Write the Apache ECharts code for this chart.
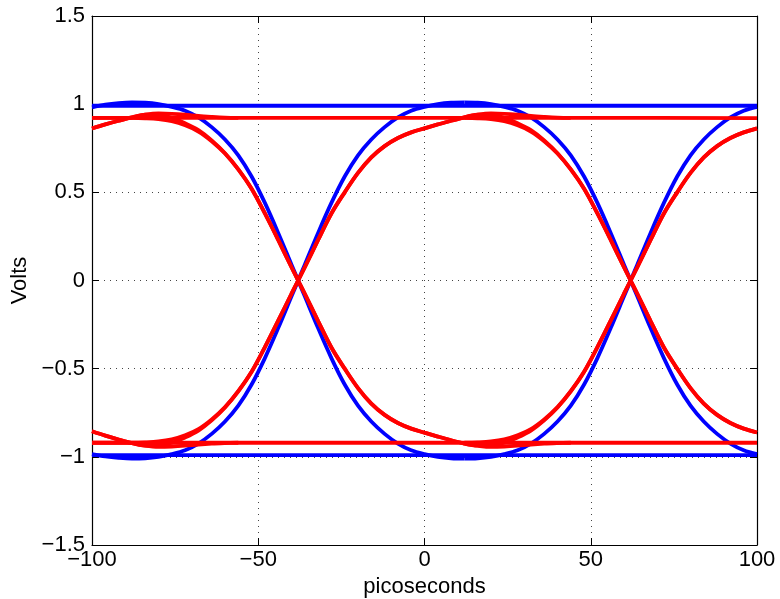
<!DOCTYPE html>
<html>
<head>
<meta charset="utf-8">
<script src="https://cdn.jsdelivr.net/npm/echarts@6/dist/echarts.min.js"></script>
<style>html,body{margin:0;padding:0;background:#fff;}#c{width:780px;height:599px;}</style>
</head>
<body>
<div id="c"></div>
<script>
// ---- axes / ticks ----
const xTicks = [-100, -50, 0, 50, 100];
const xTickLabels = ['\u2212100', '\u221250', '0', '50', '100'];
const yTicks = [-1.5, -1, -0.5, 0, 0.5, 1, 1.5];
const yTickLabels = ['\u22121.5', '\u22121', '\u22120.5', '0', '0.5', '1', '1.5'];

// ---- sample positions (picoseconds) ----
const xLeft = [-100,-96,-92,-88,-84,-80,-76,-72,-68,-64,-60,-56,-52,-48,-44,-40,-38,-36,-32,-28,-24,-20,-16,-12,-8,-4,0,4,8,12];
const xRight = [12,16,20,24,28,32,36,40,44,48,52,56,60,62,64,68,72,76,80,84,88,92,96,100];
const xFlat = [-100,-50,0,50,100];

// ---- blue traces (volts) ----
const blueTop = [0.991,0.991,0.991,0.991,0.991];
const blueBottom = [-0.99,-0.99,-0.99,-0.99,-0.99];
const blueFallL = [0.982,0.997,1.006,1.01,1.008,1.0,0.985,0.963,0.925,0.87,0.8,0.71,0.59,0.44,0.27,0.09,0,-0.09,-0.27,-0.44,-0.59,-0.71,-0.8,-0.87,-0.925,-0.963,-0.985,-1.0,-1.008,-1.01];
const blueRiseL = [-0.985,-0.998,-1.006,-1.01,-1.008,-1.0,-0.985,-0.963,-0.925,-0.87,-0.8,-0.71,-0.59,-0.44,-0.27,-0.09,0,0.09,0.27,0.44,0.59,0.71,0.8,0.87,0.925,0.963,0.985,1.0,1.008,1.01];
const blueFallR = [1.01,1.008,1.0,0.985,0.963,0.925,0.87,0.8,0.71,0.59,0.44,0.27,0.09,0,-0.09,-0.27,-0.44,-0.59,-0.71,-0.8,-0.87,-0.925,-0.963,-0.985];
const blueRiseR = [-1.01,-1.008,-1.0,-0.985,-0.963,-0.925,-0.87,-0.8,-0.71,-0.59,-0.44,-0.27,-0.09,0,0.09,0.27,0.44,0.59,0.71,0.8,0.87,0.925,0.963,0.985];

// ---- red traces (volts) ----
const redTop = [0.922,0.922,0.922,0.922,0.921];
const redBottom = [-0.92,-0.92,-0.92,-0.92,-0.92];
const redFallSettledL = [0.922,0.922,0.922,0.922,0.92,0.915,0.903,0.88,0.845,0.79,0.72,0.63,0.52,0.38,0.23,0.075,0,-0.075,-0.23,-0.38,-0.5,-0.61,-0.698,-0.762,-0.808,-0.84,-0.863,-0.885,-0.906,-0.925];
const redFallAfterL = [0.862,0.885,0.906,0.925,0.94,0.94,0.922,0.892,0.853,0.795,0.722,0.63,0.52,0.38,0.23,0.075,0,-0.075,-0.23,-0.38,-0.5,-0.61,-0.698,-0.762,-0.808,-0.84,-0.863,-0.885,-0.906,-0.925];
const redSettleTopL = [0.862,0.885,0.906,0.925,0.94,0.947,0.945,0.94,0.933,0.928,0.924,0.922];
const redRiseSettledL = [-0.92,-0.92,-0.92,-0.92,-0.918,-0.913,-0.901,-0.878,-0.843,-0.788,-0.718,-0.628,-0.518,-0.378,-0.228,-0.075,0,0.075,0.23,0.38,0.5,0.61,0.698,0.762,0.808,0.84,0.863,0.885,0.906,0.925];
const redRiseAfterL = [-0.855,-0.88,-0.902,-0.922,-0.937,-0.938,-0.92,-0.89,-0.851,-0.793,-0.72,-0.628,-0.518,-0.378,-0.228,-0.075,0,0.075,0.23,0.38,0.5,0.61,0.698,0.762,0.808,0.84,0.863,0.885,0.906,0.925];
const redSettleBotL = [-0.855,-0.88,-0.902,-0.922,-0.937,-0.944,-0.942,-0.937,-0.93,-0.925,-0.922,-0.92];
const redFallSettledR = [0.922,0.92,0.915,0.903,0.88,0.845,0.79,0.72,0.63,0.52,0.38,0.23,0.075,0,-0.075,-0.23,-0.38,-0.5,-0.61,-0.698,-0.762,-0.808,-0.84,-0.862];
const redFallAfterR = [0.925,0.94,0.94,0.922,0.892,0.853,0.795,0.722,0.63,0.52,0.38,0.23,0.075,0,-0.075,-0.23,-0.38,-0.5,-0.61,-0.698,-0.762,-0.808,-0.84,-0.862];
const redSettleTopR = [0.925,0.94,0.947,0.945,0.94,0.933,0.928,0.924,0.922];
const redRiseSettledR = [-0.92,-0.918,-0.913,-0.901,-0.878,-0.843,-0.788,-0.718,-0.628,-0.518,-0.378,-0.228,-0.075,0,0.075,0.23,0.38,0.5,0.61,0.698,0.762,0.808,0.84,0.863];
const redRiseAfterR = [-0.925,-0.937,-0.938,-0.92,-0.89,-0.851,-0.793,-0.72,-0.628,-0.518,-0.378,-0.228,-0.075,0,0.075,0.23,0.38,0.5,0.61,0.698,0.762,0.808,0.84,0.863];
const redSettleBotR = [-0.925,-0.937,-0.944,-0.942,-0.937,-0.93,-0.925,-0.922,-0.92];

function pairs(xs, ys) {
  const out = [];
  for (let i = 0; i < Math.min(xs.length, ys.length); i++) out.push([xs[i], ys[i]]);
  return out;
}

const BLUE = '#0000ff', RED = '#ff0000';
function trace(xs, ys, color, z) {
  return {
    type: 'line', data: pairs(xs, ys), showSymbol: false, symbol: 'none',
    smooth: 0.35, lineStyle: { color: color, width: 3.8 }, z: z,
    xAxisIndex: 0, yAxisIndex: 0, silent: true, animation: false
  };
}

const series = [
  trace(xFlat, blueTop, BLUE, 2),
  trace(xFlat, blueBottom, BLUE, 2),
  trace(xLeft, blueFallL, BLUE, 2),
  trace(xLeft, blueRiseL, BLUE, 2),
  trace(xRight, blueFallR, BLUE, 2),
  trace(xRight, blueRiseR, BLUE, 2),
  trace(xFlat, redTop, RED, 3),
  trace(xFlat, redBottom, RED, 3),
  trace(xLeft, redFallSettledL, RED, 3),
  trace(xLeft, redFallAfterL, RED, 3),
  trace(xLeft, redSettleTopL, RED, 3),
  trace(xLeft, redRiseSettledL, RED, 3),
  trace(xLeft, redRiseAfterL, RED, 3),
  trace(xLeft, redSettleBotL, RED, 3),
  trace(xRight, redFallSettledR, RED, 3),
  trace(xRight, redFallAfterR, RED, 3),
  trace(xRight, redSettleTopR, RED, 3),
  trace(xRight, redRiseSettledR, RED, 3),
  trace(xRight, redRiseAfterR, RED, 3),
  trace(xRight, redSettleBotR, RED, 3)
];

const FONT = 'Liberation Sans, Arial, Helvetica, sans-serif';
const gridLine = { show: true, lineStyle: { color: '#444', width: 1, type: [1, 5] } };
const tick = { show: true, inside: true, length: 7, lineStyle: { color: '#000', width: 1 } };
const axisLine = { show: true, onZero: false, lineStyle: { color: '#000', width: 1.2 } };

const chart = echarts.init(document.getElementById('c'), null, { renderer: 'canvas' });
chart.setOption({
  animation: false,
  backgroundColor: '#fff',
  grid: { left: 92, right: 23, top: 16, bottom: 54, containLabel: false, outerBoundsMode: 'none' },
  xAxis: [
    {
      type: 'value', min: -100, max: 100, interval: 50, position: 'bottom',
      name: 'picoseconds', nameLocation: 'middle', nameGap: 28,
      nameTextStyle: { fontFamily: FONT, fontSize: 22, color: '#000' },
      axisLine: axisLine, axisTick: tick, splitLine: gridLine,
      axisLabel: { margin: 4, fontFamily: FONT, fontSize: 22, color: '#000',
        formatter: function (v) { const i = xTicks.indexOf(v); return i >= 0 ? xTickLabels[i] : ''; } }
    },
    {
      type: 'value', min: -100, max: 100, interval: 50, position: 'top',
      axisLine: axisLine, axisTick: tick, splitLine: { show: false }, axisLabel: { show: false }
    }
  ],
  yAxis: [
    {
      type: 'value', min: -1.5, max: 1.5, interval: 0.5, position: 'left',
      name: 'Volts', nameLocation: 'middle', nameGap: 60,
      nameTextStyle: { fontFamily: FONT, fontSize: 22, color: '#000' },
      axisLine: axisLine, axisTick: tick, splitLine: gridLine,
      axisLabel: { margin: 7, fontFamily: FONT, fontSize: 22, color: '#000',
        formatter: function (v) { const i = yTicks.findIndex(function (t) { return Math.abs(t - v) < 1e-9; }); return i >= 0 ? yTickLabels[i] : ''; } }
    },
    {
      type: 'value', min: -1.5, max: 1.5, interval: 0.5, position: 'right',
      axisLine: axisLine, axisTick: tick, splitLine: { show: false }, axisLabel: { show: false }
    }
  ],
  series: series
});
</script>
</body>
</html>
